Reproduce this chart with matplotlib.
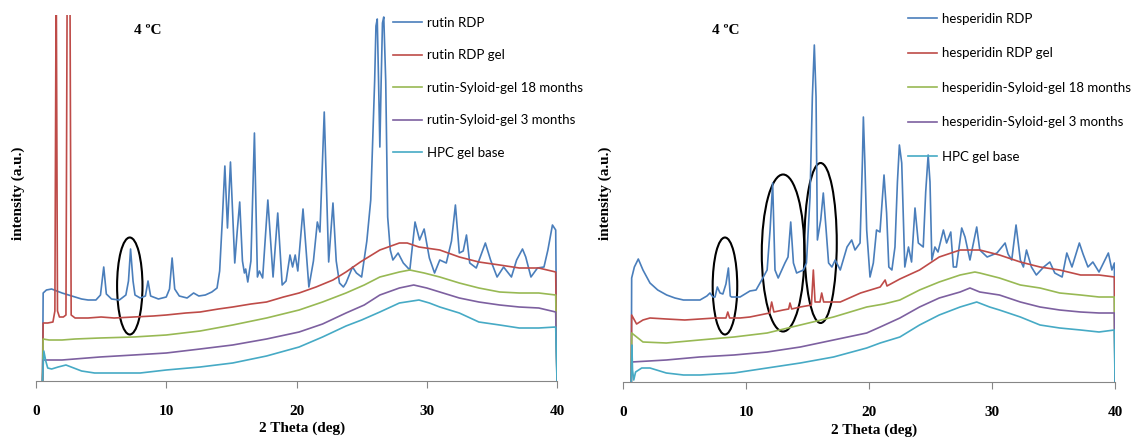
import matplotlib.pyplot as plt
from matplotlib.patches import Ellipse

# --- rutin panel (2 theta in deg, intensity in a.u.) ---
rutin_rdp_x = [0.5, 0.55, 0.8, 1.2, 1.6, 2.0, 2.5, 3.0, 3.5, 4.0, 4.6, 4.95, 5.2, 5.4, 5.8, 6.4, 6.9, 7.1, 7.26, 7.45,
               7.6, 8.0, 8.4, 8.6, 8.8, 9.4, 10.0, 10.25, 10.45, 10.65, 11.0, 11.6, 12.1, 12.5, 13.0, 13.5, 13.9, 14.1,
               14.3, 14.5, 14.7, 14.93, 15.26, 15.45, 15.64, 15.85, 16.0, 16.1, 16.26, 16.5, 16.77, 17.0, 17.15, 17.4,
               17.8, 18.2, 18.56, 18.9, 19.2, 19.5, 19.7, 19.9, 20.1, 20.5, 20.95, 21.3, 21.6, 21.8, 22.13, 22.47, 22.8,
               23.05, 23.3, 23.6, 23.8, 24.3, 24.6, 25.0, 25.4, 25.7, 26.0, 26.1, 26.2, 26.3, 26.4, 26.5, 26.6, 26.7,
               26.85, 27.0, 27.2, 27.4, 27.8, 28.2, 28.7, 29.1, 29.45, 29.8, 30.2, 30.6, 31.0, 31.5, 31.9, 32.2, 32.5,
               32.8, 33.05, 33.3, 33.8, 34.5, 34.9, 35.4, 35.9, 36.5, 36.9, 37.35, 37.6, 38.0, 38.5, 39.0, 39.3, 39.65,
               39.9, 40.0]
rutin_rdp_y = [0, 88, 91, 92, 90, 88, 86, 84, 82, 81, 81, 86, 114, 87, 82, 81, 86, 100, 132, 100,
               86, 83, 85, 100, 85, 82, 84, 92, 123, 92, 85, 83, 88, 85, 86, 89, 93, 110,
               160, 215, 153, 219, 118, 150, 179, 120, 108, 112, 99, 120, 248, 104, 110, 103,
               181, 104, 168, 96, 100, 126, 114, 126, 110, 172, 94, 120, 159, 149, 269, 119, 178,
               120, 98, 94, 98, 114, 108, 104, 140, 181, 300, 355, 362, 300, 234, 300, 358, 364,
               300, 164, 131, 121, 128, 118, 111, 159, 141, 152, 123, 108, 121, 118, 140, 176, 128,
               130, 146, 118, 113, 138, 121, 104, 114, 104, 121, 132, 124, 104, 113, 114, 131, 156,
               151, 0]

rutin_gel_x = [0.5, 0.55, 0.9, 1.3, 1.45, 1.55, 1.65, 1.8, 2.1, 2.3, 2.4, 2.6, 2.7, 3.0, 4.0, 5.0, 6.0, 7.5, 9.0,
               10.0, 11.5, 12.6, 14.0, 15.1, 16.5, 17.7, 19.0, 20.2, 21.5, 22.8, 23.8, 24.9, 26.4, 27.9, 28.5, 29.4,
               31.0, 32.5, 34.0, 35.6, 37.1, 38.6, 39.9, 40.0]
rutin_gel_y = [0, 58, 58, 59, 70, 420, 70, 64, 64, 66, 420, 420, 66, 63, 63, 64, 63, 64, 65,
               66, 68, 69, 72, 74, 77, 79, 84, 88, 94, 101, 109, 119, 131, 138, 138, 134,
               131, 124, 119, 116, 113, 113, 109, 0]

rutin_syl18_x = [0.5, 0.55, 1.0, 2.0, 3.0, 4.9, 7.5, 10.0, 12.6, 15.1, 17.7, 20.2, 22.0, 23.8, 25.2, 26.4, 27.9,
                 28.7, 29.8, 31.0, 32.5, 34.0, 35.6, 37.1, 38.6, 39.9, 40.0]
rutin_syl18_y = [0, 42, 41, 41, 42, 43, 44, 46, 50, 56, 63, 71, 79, 88, 96, 104, 109,
                 111, 108, 104, 98, 93, 89, 88, 88, 86, 0]

rutin_syl3_x = [0.5, 0.55, 2.0, 4.9, 7.5, 10.0, 12.6, 15.1, 17.7, 20.2, 22.0, 23.8, 25.2, 26.4, 27.9, 29.0, 30.0,
                31.0, 32.5, 34.0, 35.6, 37.1, 38.6, 39.9, 40.0]
rutin_syl3_y = [0, 21, 21, 24, 26, 28, 32, 36, 42, 49, 57, 68, 76, 86, 93, 96, 93,
                89, 83, 79, 76, 74, 73, 69, 0]

rutin_hpc_x = [0.5, 0.6, 0.75, 0.9, 1.2, 1.7, 2.3, 2.9, 3.5, 4.5, 6.0, 8.0, 10.0, 12.6, 15.1, 17.7, 20.2, 22.0,
               23.8, 25.0, 26.4, 27.9, 29.4, 30.2, 31.0, 32.5, 34.0, 35.6, 37.1, 38.6, 39.9, 40.0]
rutin_hpc_y = [0, 30, 20, 13, 12, 14, 16, 13, 10, 8, 8, 8, 11, 14, 18, 25, 34, 44,
               55, 61, 69, 78, 81, 78, 74, 68, 59, 56, 53, 53, 54, 0]

# --- hesperidin panel ---
hesp_rdp_x = [0.65, 0.68, 0.9, 1.22, 1.6, 2.17, 2.8, 3.53, 4.2, 4.89, 5.6, 6.24, 6.8, 7.05, 7.3, 7.46, 7.65, 7.87,
              8.1, 8.35, 8.55, 8.7, 8.8, 9.5, 10.3, 10.8, 11.26, 11.7, 11.94, 12.15, 12.34, 12.6, 13.15, 13.4, 13.62,
              13.84, 14.1, 14.65, 14.9, 15.19, 15.38, 15.54, 15.68, 15.79, 16.06, 16.27, 16.5, 16.7, 16.97, 17.24,
              17.65, 18.2, 18.58, 18.85, 19.26, 19.45, 19.53, 19.65, 19.8, 20.07, 20.34, 20.6, 20.88, 21.21, 21.42,
              21.6, 21.85, 22.1, 22.3, 22.46, 22.65, 22.9, 23.2, 23.45, 23.73, 24.0, 24.4, 24.6, 24.8, 24.95, 25.1,
              25.35, 25.6, 26.04, 26.3, 26.64, 26.85, 27.1, 27.53, 27.8, 28.2, 28.75, 29.0, 29.6, 30.4, 31.06, 31.3,
              31.6, 31.95, 32.3, 32.55, 32.8, 33.2, 33.6, 34.2, 34.7, 35.1, 35.7, 36.08, 36.5, 37.1, 37.4, 37.8, 38.2,
              38.7, 39.46, 39.75, 39.95, 40.0]
hesp_rdp_y = [0, 104, 115, 123, 112, 99, 92, 87, 84, 82, 82, 82, 86, 89, 85, 85, 95, 89,
              88, 98, 114, 86, 85, 85, 91, 92, 102, 112, 152, 199, 112, 104, 119, 125, 160,
              119, 109, 112, 119, 185, 285, 337, 285, 142, 162, 189, 152, 119, 115, 122,
              112, 135, 142, 132, 139, 220, 265, 220, 152, 105, 119, 152, 150, 207, 169,
              115, 112, 135, 200, 237, 219, 115, 135, 120, 174, 139, 135, 190, 227, 200, 122,
              135, 130, 152, 139, 150, 115, 115, 154, 145, 122, 155, 132, 125, 129, 139, 128,
              122, 157, 122, 115, 132, 115, 107, 115, 120, 109, 105, 129, 115, 139, 128, 115, 120,
              110, 129, 112, 119, 0]

hesp_gel_x = [0.65, 0.68, 1.08, 1.6, 2.17, 3.5, 5.0, 6.24, 7.5, 8.35, 8.5, 8.65, 9.5, 10.3, 11.1, 11.9, 12.07,
              12.25, 13.0, 13.45, 13.56, 13.7, 14.4, 15.3, 15.46, 15.6, 16.0, 16.14, 16.3, 17.65, 19.3, 20.9, 21.3,
              21.45, 22.5, 24.1, 25.7, 27.4, 29.0, 30.6, 32.3, 33.9, 35.5, 37.2, 38.7, 39.95, 40.0]
hesp_gel_y = [0, 67, 58, 62, 64, 63, 62, 63, 64, 64, 70, 64, 64, 65, 67, 69, 80,
              70, 72, 73, 79, 73, 75, 77, 112, 80, 80, 89, 80, 80, 89, 95, 102,
              96, 103, 112, 125, 132, 132, 127, 120, 115, 112, 107, 107, 105, 0]

hesp_syl18_x = [0.65, 0.68, 1.6, 3.5, 6.2, 9.0, 11.7, 14.4, 17.1, 19.8, 21.2, 22.5, 24.1, 25.7, 27.4, 28.6, 29.0,
                30.6, 32.3, 33.9, 35.5, 37.2, 38.7, 39.95, 40.0]
hesp_syl18_y = [0, 49, 40, 39, 42, 45, 49, 57, 65, 75, 78, 82, 92, 100, 107, 110, 109,
                104, 97, 94, 89, 87, 85, 85, 0]

hesp_syl3_x = [0.65, 0.68, 3.5, 6.2, 9.0, 11.7, 14.4, 17.1, 19.8, 20.9, 22.5, 24.1, 25.7, 27.4, 28.2, 29.0, 30.6,
               32.3, 33.9, 35.5, 37.2, 38.7, 39.95, 40.0]
hesp_syl3_y = [0, 20, 22, 25, 27, 30, 35, 42, 49, 55, 64, 75, 84, 90, 94, 90, 87,
               80, 75, 72, 70, 69, 69, 0]

hesp_hpc_x = [0.65, 0.7, 0.75, 0.85, 1.0, 1.5, 2.17, 3.5, 4.9, 6.24, 9.0, 11.7, 14.4, 17.1, 19.8, 20.9, 22.5,
              24.1, 25.7, 27.4, 28.75, 29.8, 30.6, 32.3, 33.9, 35.5, 37.2, 38.7, 39.95, 40.0]
hesp_hpc_y = [0, 37, 12, 2, 10, 14, 14, 9, 7, 7, 9, 14, 19, 25, 34, 39, 45,
              57, 67, 75, 80, 75, 72, 65, 57, 54, 52, 50, 52, 0]

rutin_labels = ['rutin RDP', 'rutin RDP gel', 'rutin-Syloid-gel 18 months',
                'rutin-Syloid-gel 3 months', 'HPC gel base']
hesp_labels = ['hesperidin RDP', 'hesperidin RDP gel', 'hesperidin-Syloid-gel 18 months',
               'hesperidin-Syloid-gel 3 months', 'HPC gel base']

# highlighted regions: (center 2theta, center intensity, width, height)
rutin_marks = [(7.2, 95, 1.95, 97)]
hesp_marks = [(8.27, 96, 2.0, 97), (13.0, 129, 3.47, 157), (16.05, 139, 2.63, 160)]

colors = ['#4a7ebb', '#be4b48', '#98b954', '#7d60a0', '#46aac5']
serif = 'Liberation Serif'

fig = plt.figure(figsize=(11.34, 4.38), dpi=100)
ax1 = fig.add_axes([36 / 1134, 57 / 438, 521 / 1134, 366 / 438])
ax2 = fig.add_axes([623.3 / 1134, 56 / 438, 491.7 / 1134, 367 / 438])

panels = [
    (ax1, [(rutin_rdp_x, rutin_rdp_y), (rutin_gel_x, rutin_gel_y), (rutin_syl18_x, rutin_syl18_y),
           (rutin_syl3_x, rutin_syl3_y), (rutin_hpc_x, rutin_hpc_y)], rutin_labels, rutin_marks, 366),
    (ax2, [(hesp_rdp_x, hesp_rdp_y), (hesp_gel_x, hesp_gel_y), (hesp_syl18_x, hesp_syl18_y),
           (hesp_syl3_x, hesp_syl3_y), (hesp_hpc_x, hesp_hpc_y)], hesp_labels, hesp_marks, 367),
]

for ax, series, labels, marks, ytop in panels:
    for (x, y), lab, c in zip(series, labels, colors):
        ax.plot(x, y, color=c, lw=1.2, label=lab)
    for cx, cy, w, h in marks:
        ax.add_patch(Ellipse((cx, cy), w, h, fill=False, edgecolor='black', lw=1.5))
    ax.set_xlim(0, 40)
    ax.set_ylim(0, ytop)
    ax.set_xticks([0, 10, 20, 30, 40])
    ax.set_yticks([])
    for s in ['top', 'right', 'left']:
        ax.spines[s].set_visible(False)
    ax.spines['bottom'].set_color('#868686')
    ax.tick_params(axis='x', direction='out', length=5, color='#868686', pad=12)
    for t in ax.get_xticklabels():
        t.set_fontfamily(serif)
        t.set_fontweight('bold')
        t.set_fontsize(11)
    ax.set_xlabel('2 Theta (deg)', fontfamily=serif, fontweight='bold', fontsize=11, labelpad=1)
    ax.xaxis.set_label_coords(0.51, -0.112)

leg_kw = dict(loc='upper left', frameon=False, borderpad=0, borderaxespad=0, handlelength=2.2,
              handletextpad=0.35, labelspacing=1.55, prop={'family': 'Lato', 'size': 9.5})
ax1.legend(bbox_to_anchor=(393 / 1134, 1 - 17 / 438), bbox_transform=fig.transFigure, **leg_kw)
leg2_kw = dict(leg_kw, labelspacing=1.7)
ax2.legend(bbox_to_anchor=(908 / 1134, 1 - 13 / 438), bbox_transform=fig.transFigure, **leg2_kw)

for xc in (148, 726):
    fig.text(xc / 1134, 1 - 30 / 438, '4 ºC', ha='center', va='center',
             fontfamily=serif, fontweight='bold', fontsize=11)
for xc in (18, 605):
    fig.text(xc / 1134, 1 - 193 / 438, 'intensity (a.u.)', ha='center', va='center', rotation=90,
             fontfamily=serif, fontweight='bold', fontsize=11)

fig.savefig('out.png', dpi=100)
